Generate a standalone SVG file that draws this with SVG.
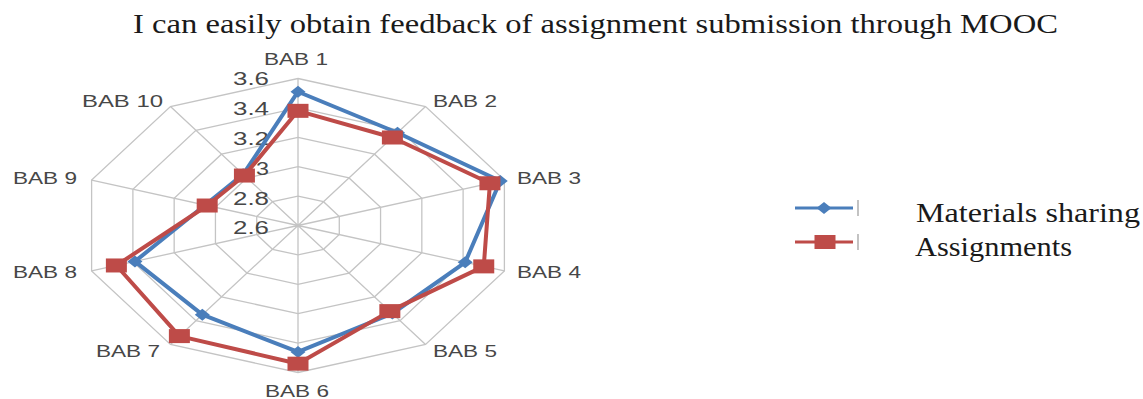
<svg xmlns="http://www.w3.org/2000/svg" width="1143" height="399" viewBox="0 0 1143 399">
<style>
.grid{fill:none;stroke:#c4c4c4;stroke-width:1.3}
.ax{font-family:"Liberation Sans",Arial,sans-serif;font-size:17px;fill:#474747}
.tick{font-family:"Liberation Sans",Arial,sans-serif;font-size:18px;fill:#474747;text-anchor:end}
.serif{font-family:"Liberation Serif","Times New Roman",serif;font-size:27px;fill:#1a1a1a}
.blue{fill:none;stroke:#4a7ebb;stroke-width:4;stroke-linejoin:round}
.red{fill:none;stroke:#be4b48;stroke-width:4;stroke-linejoin:round}
.bm{fill:#4a7ebb}
.rm{fill:#be4b48}
</style>
<defs>
<path id="dia" d="M-7.5,0 L0,-6 L7.5,0 L0,6 Z"/>
<rect id="sq" x="-10.5" y="-7" width="21" height="14"/>
</defs>
<rect width="1143" height="399" fill="#ffffff"/>
<text class="serif" x="133" y="33" textLength="925" lengthAdjust="spacingAndGlyphs">I can easily obtain feedback of assignment submission through MOOC</text>

<g id="grid" transform="translate(298,225.5)">
<polygon class="grid" points="0,-147 127.55,-118.92 206.39,-45.42 206.39,45.42 127.55,118.92 0,147 -127.55,118.92 -206.39,45.42 -206.39,-45.42 -127.55,-118.92"/>
<polygon class="grid" points="0,-117.6 102.04,-95.14 165.11,-36.34 165.11,36.34 102.04,95.14 0,117.6 -102.04,95.14 -165.11,36.34 -165.11,-36.34 -102.04,-95.14"/>
<polygon class="grid" points="0,-88.2 76.53,-71.35 123.83,-27.25 123.83,27.25 76.53,71.35 0,88.2 -76.53,71.35 -123.83,27.25 -123.83,-27.25 -76.53,-71.35"/>
<polygon class="grid" points="0,-58.8 51.02,-47.57 82.56,-18.17 82.56,18.17 51.02,47.57 0,58.8 -51.02,47.57 -82.56,18.17 -82.56,-18.17 -51.02,-47.57"/>
<polygon class="grid" points="0,-29.4 25.51,-23.78 41.28,-9.08 41.28,9.08 25.51,23.78 0,29.4 -25.51,23.78 -41.28,9.08 -41.28,-9.08 -25.51,-23.78"/>
<path class="grid" d="M0,0L0,-147M0,0L127.55,-118.92M0,0L206.39,-45.42M0,0L206.39,45.42M0,0L127.55,118.92M0,0L0,147M0,0L-127.55,118.92M0,0L-206.39,45.42M0,0L-206.39,-45.42M0,0L-127.55,-118.92"/>
</g>

<g id="ticks">
<text class="tick" x="269" y="85" textLength="36" lengthAdjust="spacingAndGlyphs">3.6</text>
<text class="tick" x="269" y="115" textLength="36" lengthAdjust="spacingAndGlyphs">3.4</text>
<text class="tick" x="269" y="145" textLength="36" lengthAdjust="spacingAndGlyphs">3.2</text>
<text class="tick" x="269" y="175" textLength="13" lengthAdjust="spacingAndGlyphs">3</text>
<text class="tick" x="269" y="205" textLength="36" lengthAdjust="spacingAndGlyphs">2.8</text>
<text class="tick" x="269" y="234" textLength="36" lengthAdjust="spacingAndGlyphs">2.6</text>
</g>

<g id="axis-labels">
<text id="bab1" class="ax" x="264" y="65" textLength="64" lengthAdjust="spacingAndGlyphs">BAB 1</text>
<text id="bab2" class="ax" x="433" y="107" textLength="64" lengthAdjust="spacingAndGlyphs">BAB 2</text>
<text id="bab3" class="ax" x="517" y="184" textLength="64" lengthAdjust="spacingAndGlyphs">BAB 3</text>
<text id="bab4" class="ax" x="517" y="278" textLength="64" lengthAdjust="spacingAndGlyphs">BAB 4</text>
<text id="bab5" class="ax" x="433" y="357" textLength="64" lengthAdjust="spacingAndGlyphs">BAB 5</text>
<text id="bab6" class="ax" x="265" y="397" textLength="64" lengthAdjust="spacingAndGlyphs">BAB 6</text>
<text id="bab7" class="ax" x="96" y="357" textLength="64" lengthAdjust="spacingAndGlyphs">BAB 7</text>
<text id="bab8" class="ax" x="13" y="278" textLength="64" lengthAdjust="spacingAndGlyphs">BAB 8</text>
<text id="bab9" class="ax" x="13" y="184" textLength="64" lengthAdjust="spacingAndGlyphs">BAB 9</text>
<text id="bab10" class="ax" x="82" y="107" textLength="81" lengthAdjust="spacingAndGlyphs">BAB 10</text>
</g>

<g id="series-materials" transform="translate(298,225.5)">
<polygon class="blue" points="0,-133.77 99.49,-92.76 202.26,-44.51 167.18,36.79 94.39,88 0,126.42 -95.66,89.19 -163.05,35.88 -92.88,-20.44 -54.85,-51.14"/>
<use href="#dia" class="bm" x="0" y="-133.77"/>
<use href="#dia" class="bm" x="99.49" y="-92.76"/>
<use href="#dia" class="bm" x="202.26" y="-44.51"/>
<use href="#dia" class="bm" x="167.18" y="36.79"/>
<use href="#dia" class="bm" x="94.39" y="88"/>
<use href="#dia" class="bm" x="0" y="126.42"/>
<use href="#dia" class="bm" x="-95.66" y="89.19"/>
<use href="#dia" class="bm" x="-163.05" y="35.88"/>
<use href="#dia" class="bm" x="-92.88" y="-20.44"/>
<use href="#dia" class="bm" x="-54.85" y="-51.14"/>
</g>

<g id="series-assignments" transform="translate(298,225.5)">
<polygon class="red" points="0,-114.66 94.39,-88 191.94,-42.24 185.75,40.88 91.84,85.62 0,138.18 -118.62,110.6 -181.62,39.97 -90.81,-19.98 -53.57,-49.95"/>
<use href="#sq" class="rm" x="0" y="-114.66"/>
<use href="#sq" class="rm" x="94.39" y="-88"/>
<use href="#sq" class="rm" x="191.94" y="-42.24"/>
<use href="#sq" class="rm" x="185.75" y="40.88"/>
<use href="#sq" class="rm" x="91.84" y="85.62"/>
<use href="#sq" class="rm" x="0" y="138.18"/>
<use href="#sq" class="rm" x="-118.62" y="110.6"/>
<use href="#sq" class="rm" x="-181.62" y="39.97"/>
<use href="#sq" class="rm" x="-90.81" y="-19.98"/>
<use href="#sq" class="rm" x="-53.57" y="-49.95"/>
</g>

<g id="legend">
<line x1="795" y1="208" x2="853" y2="208" stroke="#4a7ebb" stroke-width="3"/>
<use href="#dia" class="bm" x="824" y="208"/>
<line x1="858" y1="200" x2="858" y2="216" stroke="#9a9a9a" stroke-width="1.2"/>
<text class="serif" x="916" y="222" textLength="224" lengthAdjust="spacingAndGlyphs">Materials sharing</text>
<line x1="795" y1="242" x2="853" y2="242" stroke="#be4b48" stroke-width="3"/>
<use href="#sq" class="rm" x="825" y="242"/>
<line x1="858" y1="234" x2="858" y2="250" stroke="#9a9a9a" stroke-width="1.2"/>
<text class="serif" x="915" y="256" textLength="157" lengthAdjust="spacingAndGlyphs">Assignments</text>
</g>
</svg>
